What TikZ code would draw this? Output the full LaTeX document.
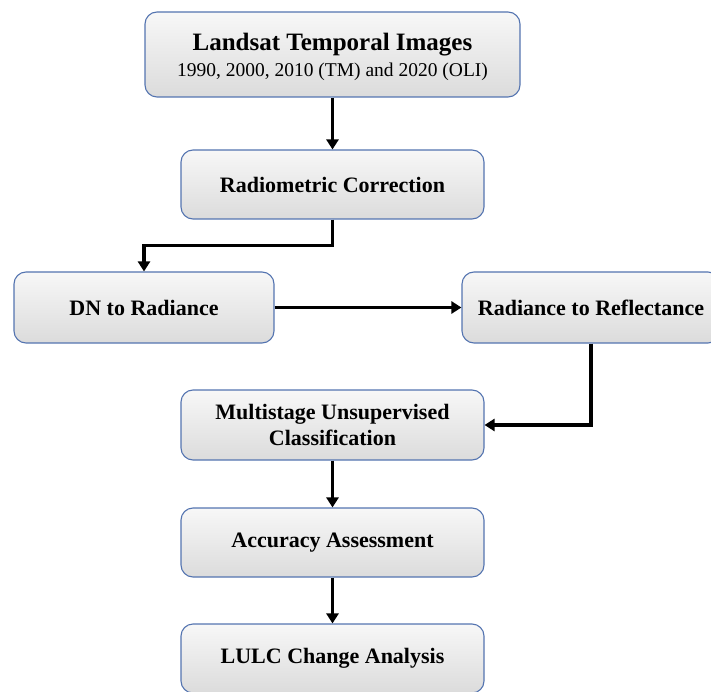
\documentclass[tikz,border=0pt]{standalone}
\usepackage{fontspec}
\setmainfont{Liberation Serif}
\usetikzlibrary{arrows.meta}

\definecolor{boxline}{RGB}{84,116,176}

\tikzset{
  stage/.style={draw=boxline, line width=1.1pt, rounded corners=12pt,
    top color=gray!6, bottom color=gray!28, align=center,
    minimum width=303, minimum height=69, inner sep=2pt,
    font=\fontsize{22}{26}\selectfont\bfseries},
  flow/.style={line width=3.2pt, -{Triangle[width=12pt,length=10pt]}}
}

\begin{document}
\begin{tikzpicture}[x=1pt,y=-1pt]

\useasboundingbox (0,0) rectangle (711,692);

% boxes
\node[stage, minimum width=375, minimum height=85] (landsat) at (332.5,54.5)
  {{\fontsize{25}{29}\selectfont\bfseries\rule{0pt}{23pt}Landsat Temporal Images}\\
   {\fontsize{19.5}{22}\selectfont\mdseries 1990, 2000, 2010 (TM) and 2020 (OLI)}};
\node[stage] (radio) at (332.5,184.5) {Radiometric Correction};
\node[stage, minimum width=260, minimum height=71] (dn) at (144,307.5) {DN to Radiance};
\node[stage, minimum width=258, minimum height=71] (reflect) at (591,307.5) {Radiance to Reflectance};
\node[stage, minimum height=70] (classif) at (332.5,425) {Multistage Unsupervised\\Classification};
\node[stage] (accuracy) at (332.5,542.5) {Accuracy Assessment};
\node[stage] (lulc) at (332.5,658.5) {LULC Change Analysis};

% connectors
\draw[flow] (landsat.south) -- (radio.north);
\draw[flow] (radio.south) -- ++(0,26) -| (dn.north);
\draw[flow] (dn.east) -- (reflect.west);
\draw[flow] (reflect.south) |- (classif.east);
\draw[flow] (classif.south) -- (accuracy.north);
\draw[flow] (accuracy.south) -- (lulc.north);

\end{tikzpicture}
\end{document}
